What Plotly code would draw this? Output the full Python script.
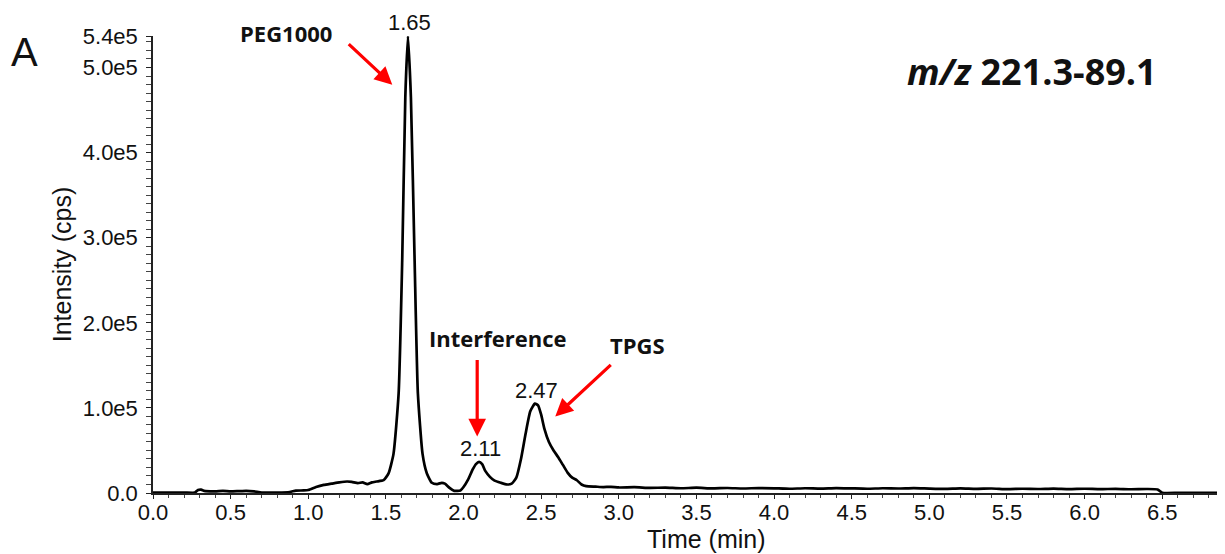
import plotly.graph_objects as go

# ---- data ----
time_min = [0.00, 0.10, 0.20, 0.27, 0.29, 0.31, 0.33, 0.40, 0.45, 0.50, 0.55, 0.60, 0.65, 0.70,
            0.80, 0.88, 0.92, 0.97, 1.00, 1.05, 1.10, 1.15, 1.20, 1.25, 1.28, 1.32, 1.35, 1.38,
            1.41, 1.44, 1.485, 1.517, 1.549, 1.582, 1.605, 1.625, 1.642, 1.661, 1.685, 1.706,
            1.736, 1.764, 1.796, 1.83, 1.86, 1.88, 1.91, 1.94, 1.98, 2.00, 2.03, 2.06, 2.08,
            2.10, 2.12, 2.14, 2.17, 2.20, 2.24, 2.28, 2.31, 2.34, 2.37, 2.40, 2.43, 2.46, 2.48,
            2.50, 2.52, 2.55, 2.58, 2.61, 2.64, 2.67, 2.70, 2.73, 2.76, 2.79, 2.85, 2.90, 2.95,
            3.00, 3.10, 3.20, 3.30, 3.40, 3.50, 3.60, 3.70, 3.80, 3.90, 4.00, 4.10, 4.20, 4.30,
            4.40, 4.50, 4.60, 4.70, 4.80, 4.90, 5.00, 5.10, 5.20, 5.30, 5.40, 5.50, 5.60, 5.70,
            5.80, 5.90, 6.00, 6.10, 6.20, 6.30, 6.40, 6.47, 6.50, 6.60, 6.70, 6.80, 6.885]
intensity_cps = [500, 400, 600, 500, 3500, 4000, 2500, 2000, 2500, 1800, 2200, 2600, 2000, 500,
                 600, 1200, 2800, 3000, 3500, 7000, 9500, 11000, 12500, 13500, 13000, 11500, 12500, 10500,
                 12500, 13500, 15000, 23000, 46000, 117000, 273000, 465000, 537000, 465000, 273000, 117000,
                 46000, 23000, 12000, 10500, 12000, 11000, 6000, 2500, 3000, 7000, 16000, 28000, 34000,
                 36500, 34000, 26000, 19000, 14500, 12000, 10000, 11000, 18000, 40000, 70000, 96000, 105000, 103000,
                 92000, 76000, 60000, 50000, 42000, 33000, 24000, 18000, 15000, 10000, 8000, 7500, 7000, 7200,
                 6500, 6800, 6000, 6300, 5600, 6200, 5400, 5900, 5300, 5800, 5500, 5000, 5600, 5200,
                 5800, 5400, 5000, 5600, 5300, 5800, 5200, 4800, 5400, 4900, 5300, 4600, 5000, 4700,
                 5200, 4600, 5000, 4500, 4900, 4400, 4700, 4200, 300, 200, 300, 200, 200]

peak_times = [1.65, 2.11, 2.47]
peak_heights = [537000, 36500, 105000]
peak_labels = ["1.65", "2.11", "2.47"]

x_ticks = [0.0, 0.5, 1.0, 1.5, 2.0, 2.5, 3.0, 3.5, 4.0, 4.5, 5.0, 5.5, 6.0, 6.5]
x_max = 6.885
y_max = 537000
y_ticks = [0, 100000, 200000, 300000, 400000, 500000, y_max]
y_tick_text = [f"{v/1e5:.1f}e5" if v else "0.0" for v in y_ticks]

compound_names = ["PEG1000", "Interference", "TPGS"]
compound_label_pos = [(0.859, y_max), (2.223, 181600), (3.118, 173400)]
compound_label_shift = [3, 0, 0]
arrow_heads = [(1.541, 479700), (2.088, 66500), (2.591, 90000)]
arrow_tails_px = [(-45, -42), (0, -78), (57, -53)]

transition = "<b><i>m/z</i> 221.3-89.1</b>"
panel_letter = "A"

# ---- figure ----
fig = go.Figure()
fig.add_trace(go.Scatter(x=time_min, y=intensity_cps, mode="lines",
                         line=dict(color="black", width=2.7, shape="spline", smoothing=0.5),
                         hoverinfo="skip", showlegend=False, cliponaxis=False))

annotations = []
for t, h, lab in zip(peak_times, peak_heights, peak_labels):
    annotations.append(dict(x=t, y=h, text=lab, showarrow=False, yanchor="bottom", yshift=-1,
                            font=dict(family="Arial, Liberation Sans", size=22, color="#111")))
for name, (lx, ly), sh in zip(compound_names, compound_label_pos, compound_label_shift):
    annotations.append(dict(x=lx, y=ly, text=f"<b>{name}</b>", showarrow=False, yshift=sh,
                            xanchor="center", yanchor="middle",
                            font=dict(family="Open Sans", size=22, color="#111")))
for (hx, hy), (ax, ay) in zip(arrow_heads, arrow_tails_px):
    annotations.append(dict(x=hx, y=hy, text="", showarrow=True, ax=ax, ay=ay,
                            arrowhead=2, arrowsize=1.1, arrowwidth=3.2, arrowcolor="#FF0000",
                            standoff=0, startstandoff=0))
annotations.append(dict(xref="paper", yref="paper", x=0.822, y=0.922, text=transition,
                        xanchor="center", yanchor="middle", showarrow=False,
                        font=dict(family="Open Sans", size=36, color="#111")))
annotations.append(dict(xref="paper", yref="paper", x=-0.1198, y=0.966, text=panel_letter,
                        xanchor="center", yanchor="middle", showarrow=False,
                        font=dict(family="Arial, Liberation Sans", size=40, color="#111")))
annotations.append(dict(xref="paper", yref="paper", x=0.518, y=-0.1, yanchor="middle",
                        xanchor="center", text="Time (min)", showarrow=False,
                        font=dict(family="Arial, Liberation Sans", size=25, color="#111")))

# page body adds an 8 px margin, so the figure is 8 px smaller than the window
fig.update_layout(
    width=1217, height=546,
    margin=dict(l=145, r=3, t=28, b=61),
    paper_bgcolor="white", plot_bgcolor="white",
    annotations=annotations,
    xaxis=dict(range=[0, x_max], tickmode="array", tickvals=x_ticks,
               ticktext=[f"{v:.1f}" for v in x_ticks],
               showline=True, linecolor="#222", linewidth=1.5, showgrid=False, zeroline=False,
               ticks="outside", ticklen=4, tickcolor="#222", ticklabelstandoff=-5,
               minor=dict(tickmode="linear", tick0=0, dtick=0.1, ticks="outside", ticklen=3, tickcolor="#444"),
               tickfont=dict(family="Arial, Liberation Sans", size=22, color="#111")),
    yaxis=dict(range=[0, y_max], tickmode="array", tickvals=y_ticks, ticktext=y_tick_text,
               showline=True, linecolor="#222", linewidth=1.5, showgrid=False, zeroline=False,
               ticks="outside", ticklen=5, tickcolor="#222", ticklabelstandoff=4,
               minor=dict(tickmode="linear", tick0=0, dtick=10000, ticks="outside", ticklen=5, tickcolor="#444"),
               title=dict(text="Intensity (cps)", standoff=4,
                          font=dict(family="Arial, Liberation Sans", size=25, color="#111")),
               tickfont=dict(family="Arial, Liberation Sans", size=22, color="#111")),
)

fig.write_html("out.html")
